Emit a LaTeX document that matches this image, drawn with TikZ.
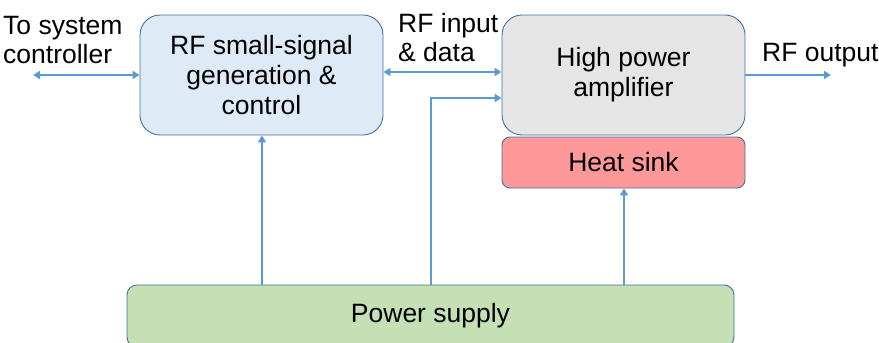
\documentclass[tikz,border=0pt]{standalone}
\usepackage{fontspec}
\setmainfont{Liberation Sans}
\usetikzlibrary{arrows.meta}
\definecolor{edgeblue}{HTML}{41719C}
\definecolor{linkblue}{HTML}{5B9BD5}
\definecolor{sigfill}{HTML}{DEEBF7}
\definecolor{ampfill}{HTML}{E5E5E5}
\definecolor{sinkfill}{HTML}{FF9999}
\definecolor{psufill}{HTML}{C5E0B4}
\tikzset{
  x=1pt, y=-1pt,
  blockbox/.style={draw=edgeblue, line width=0.9pt, align=center, inner sep=0pt,
    font=\fontsize{26.5}{30}\selectfont},
  lbl/.style={inner sep=0pt, font=\fontsize{26.5}{29.5}\selectfont},
  link/.style={draw=linkblue, line width=2pt, -{Triangle[length=7pt,width=8pt]}},
  biglink/.style={draw=linkblue, line width=2pt, {Triangle[length=7pt,width=8pt]}-{Triangle[length=7pt,width=8pt]}},
}
\begin{document}
\begin{tikzpicture}
\useasboundingbox (0,0) rectangle (879,343);
\clip (0,0) rectangle (879,343);

% blocks
\node[blockbox, fill=sigfill, rounded corners=20pt, minimum width=243pt, minimum height=120pt]
  (sig) at (261.5,75) {RF small-signal\\generation \&\\control};
\node[blockbox, fill=ampfill, rounded corners=20pt, minimum width=243pt, minimum height=120pt]
  (amp) at (623.5,75) {High power\\amplifier};
\node[blockbox, fill=sinkfill, rounded corners=8pt, minimum width=243pt, minimum height=51pt]
  (sink) at (623.5,162.5) {Heat sink};
\node[blockbox, fill=psufill, rounded corners=10pt, minimum width=607pt, minimum height=62pt]
  (psu) at (430.5,316) {Power supply};

% free ends and labels
\coordinate (ctrl) at (33,75);
\coordinate (out) at (831,75);
\coordinate (bend) at (431,98);
\node[lbl, align=left, anchor=north west] (ctrltxt) at (3,16) {To system\\controller};
\node[lbl, align=left, anchor=north west] (rfin) at (398,13) {RF input\\\& data};
\node[lbl, anchor=north west] (rfout) at (762,43) {RF output};

% connectors
\draw[biglink] (ctrl) -- (sig.west |- ctrl);
\draw[biglink] (sig.east |- 0,72) -- (amp.west |- 0,72);
\draw[link] (amp.east |- out) -- (out);
\draw[link] (psu.north -| 262,0) -- (sig.south -| 262,0);
\draw[link] (psu.north -| bend) -- (bend) -- (amp.west |- bend);
\draw[link] (psu.north -| 624,0) -- (sink.south -| 624,0);
\end{tikzpicture}
\end{document}
